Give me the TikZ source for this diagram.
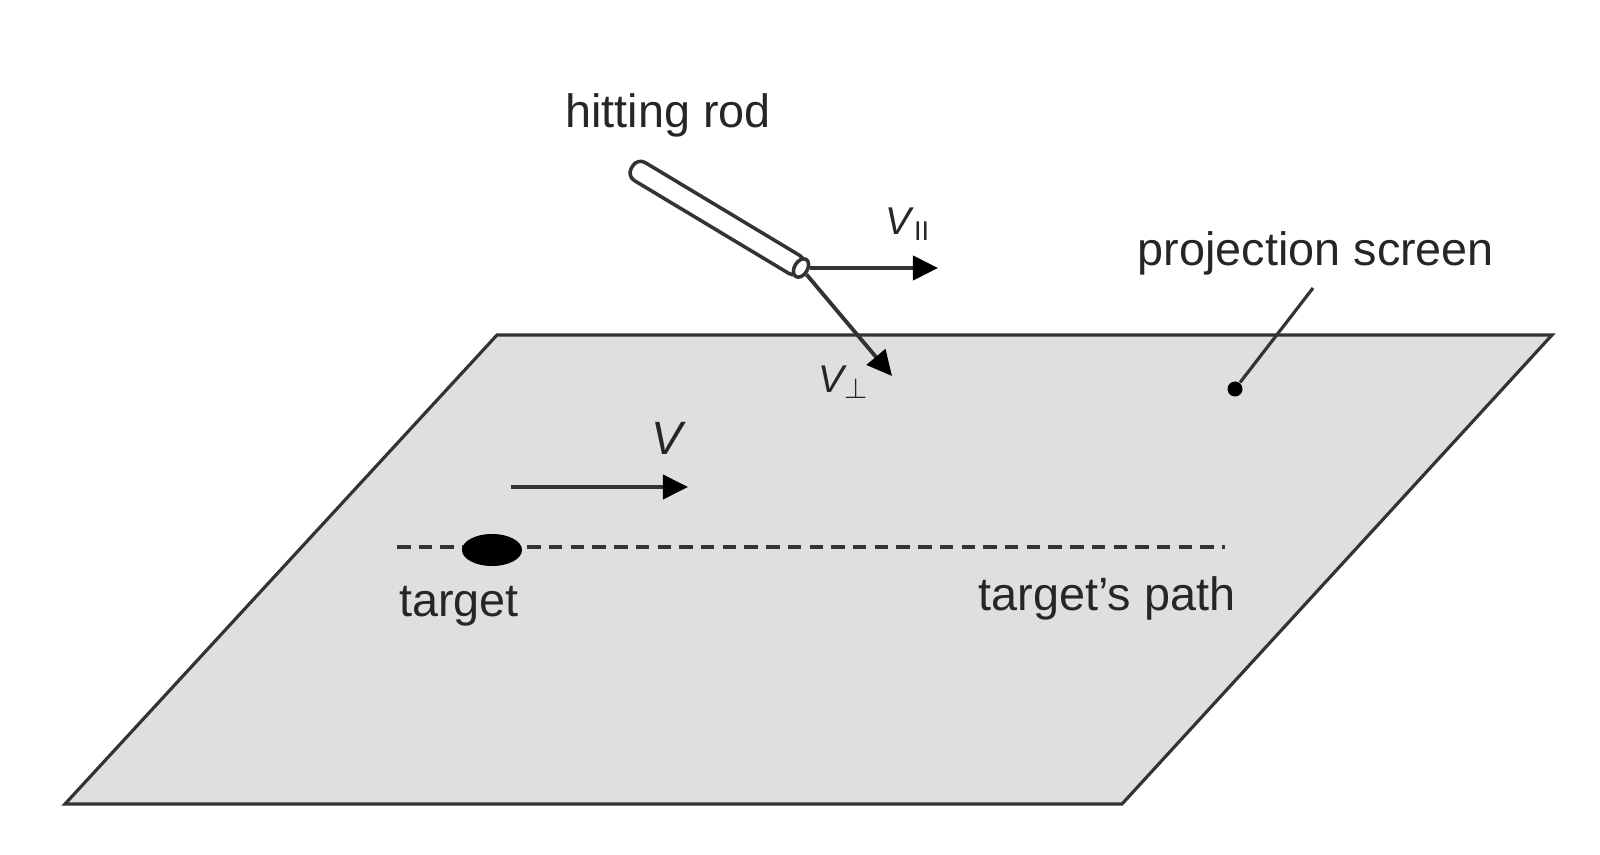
\documentclass[tikz,border=0pt]{standalone}
\usepackage{amsmath}
\usepackage{fontspec}
\setmainfont{Liberation Sans}
\usetikzlibrary{arrows.meta,shapes.geometric}
\definecolor{pantalla}{HTML}{DFDFDF}
\definecolor{trazo}{HTML}{333333}
\tikzset{
  linea/.style={draw=trazo,line width=0.9pt},
  flecha/.style={linea,line width=1.1pt,-{Triangle[length=0.25cm,width=0.24cm,color=black]}},
  etiqueta/.style={inner sep=0pt,text=black!85,font=\fontsize{13.3}{16}\selectfont},
  etiquetav/.style={inner sep=0pt,text=black!85,font=\fontsize{11}{13}\selectfont},
  varilla/.style={linea,line width=1pt,fill=white,rectangle,rounded corners=0.09cm,minimum width=1.98cm,minimum height=0.21cm,inner sep=0pt,rotate=-31},
  puntavarilla/.style={linea,line width=1pt,fill=white,ellipse,minimum width=0.13cm,minimum height=0.2cm,inner sep=0pt,rotate=-31},
}

\begin{document}
\begin{tikzpicture}[x=0.01cm,y=-0.01cm] % Coordenadas en pixeles de la imagen
    \useasboundingbox (0,0) rectangle (1600,855);

    % Pantalla de proyeccion
    \coordinate (supizq) at (497,335);
    \coordinate (supder) at (1552,335);
    \coordinate (infder) at (1122,804);
    \coordinate (infizq) at (65,804);
    \draw[linea,fill=pantalla] (supizq) -- (supder) -- (infder) -- (infizq) -- cycle;

    % Varilla y sus velocidades
    \node[varilla] (rod) at (717,218) {};
    \node[puntavarilla] (rodend) at (801,268) {};
    \coordinate (vparfin) at (938,268);
    \coordinate (vperfin) at (892,376);
    \draw[flecha] (rodend) -- (vparfin);
    \draw[flecha] (rodend) -- (vperfin);

    % Trayectoria del blanco
    \coordinate (caminoizq) at (397,547);
    \coordinate (caminoder) at (1225,547);
    \draw[linea,line width=1.2pt,dash pattern=on 0.135cm off 0.082cm] (caminoizq) -- (caminoder);
    \node[ellipse,fill=black,minimum width=0.6cm,minimum height=0.32cm,inner sep=0pt] (blanco) at (492,550) {};

    % Velocidad del blanco
    \coordinate (vini) at (511,487);
    \coordinate (vfin) at (688,487);
    \draw[flecha] (vini) -- (vfin);

    % Indicador de la pantalla
    \coordinate (indicador) at (1313,288);
    \node[circle,fill=black,minimum size=0.15cm,inner sep=0pt] (punto) at (1235,389) {};
    \draw[linea] (indicador) -- (punto);

    % Etiquetas
    \node[etiqueta] (hitting) at (668,115) {hitting rod};
    \node[etiqueta] (screen) at (1316,253) {projection screen};
    \node[etiqueta] (target) at (459,606) {target};
    \node[etiqueta] (path) at (1107,598) {target’s path};
    \node[etiqueta] (lv) at (669,438) {\textit{V}};
    \node[etiquetav] (lvpar) at (908,224) {\textit{V}\textsubscript{II}};
    \node[etiquetav] (lvper) at (844,382) {\textit{V}\kern-1pt$_\perp$};
\end{tikzpicture}
\end{document}
